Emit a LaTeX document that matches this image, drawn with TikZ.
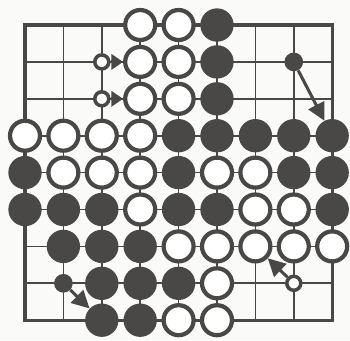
\documentclass[tikz,border=0pt]{standalone}
\definecolor{stonegray}{HTML}{4A4846}
\definecolor{paper}{HTML}{FAFAF9}
\usetikzlibrary{arrows.meta}

\begin{document}
\begin{tikzpicture}[x=1.152cm, y=-1.107cm,
  gridline/.style={stonegray, line width=1.5pt},
  boardedge/.style={stonegray, line width=2.6pt},
  wstone/.style={circle, draw=stonegray, fill=white, line width=3.6pt, minimum size=0.9cm, inner sep=0pt},
  bstone/.style={circle, fill=stonegray, minimum size=1.0cm, inner sep=0pt},
  wmark/.style={circle, draw=stonegray, fill=white, line width=3pt, minimum size=0.42cm, inner sep=0pt},
  bmark/.style={circle, fill=stonegray, minimum size=0.56cm, inner sep=0pt},
  move/.style={-{Triangle[length=15pt, width=15pt]}, stonegray, line width=2.6pt},
  shortmove/.style={-{Triangle[length=10pt, width=13pt]}, stonegray, line width=2.6pt}]
  \useasboundingbox[fill=paper] (-0.651,-0.678) rectangle (8.464,8.537);

  % Board
  \foreach \i in {1,...,7} {
    \draw[gridline] (\i,0) -- (\i,8);
    \draw[gridline] (0,\i) -- (8,\i);
  }
  \draw[boardedge] (0,0) rectangle (8,8);

  % Black stones
  \foreach \x/\y in {5/0, 5/1, 5/2, 4/3, 5/3, 6/3, 7/3, 8/3, 0/4, 4/4, 7/4, 8/4,
                     0/5, 1/5, 2/5, 4/5, 5/5, 8/5, 1/6, 2/6, 3/6, 2/7, 3/7, 4/7, 2/8, 3/8}
    \node[bstone] (s\x\y) at (\x,\y) {};

  % White stones
  \foreach \x/\y in {3/0, 4/0, 3/1, 4/1, 3/2, 4/2, 0/3, 1/3, 2/3, 3/3, 1/4, 2/4, 3/4,
                     5/4, 6/4, 3/5, 6/5, 7/5, 4/6, 5/6, 6/6, 7/6, 8/6, 5/7, 4/8, 5/8}
    \node[wstone] (s\x\y) at (\x,\y) {};

  % Moves
  \foreach \x/\y in {2/1, 2/2, 7/7}
    \node[wmark] (m\x\y) at (\x,\y) {};
  \foreach \x/\y in {7/1, 1/7}
    \node[bmark] (m\x\y) at (\x,\y) {};

  \draw[shortmove] (m21) -- (s31);
  \draw[shortmove] (m22) -- (s32);
  \draw[move] (m71) -- (s83);
  \draw[move] (m17) -- (s28);
  \draw[move] (m77) -- (s66);
\end{tikzpicture}
\end{document}
